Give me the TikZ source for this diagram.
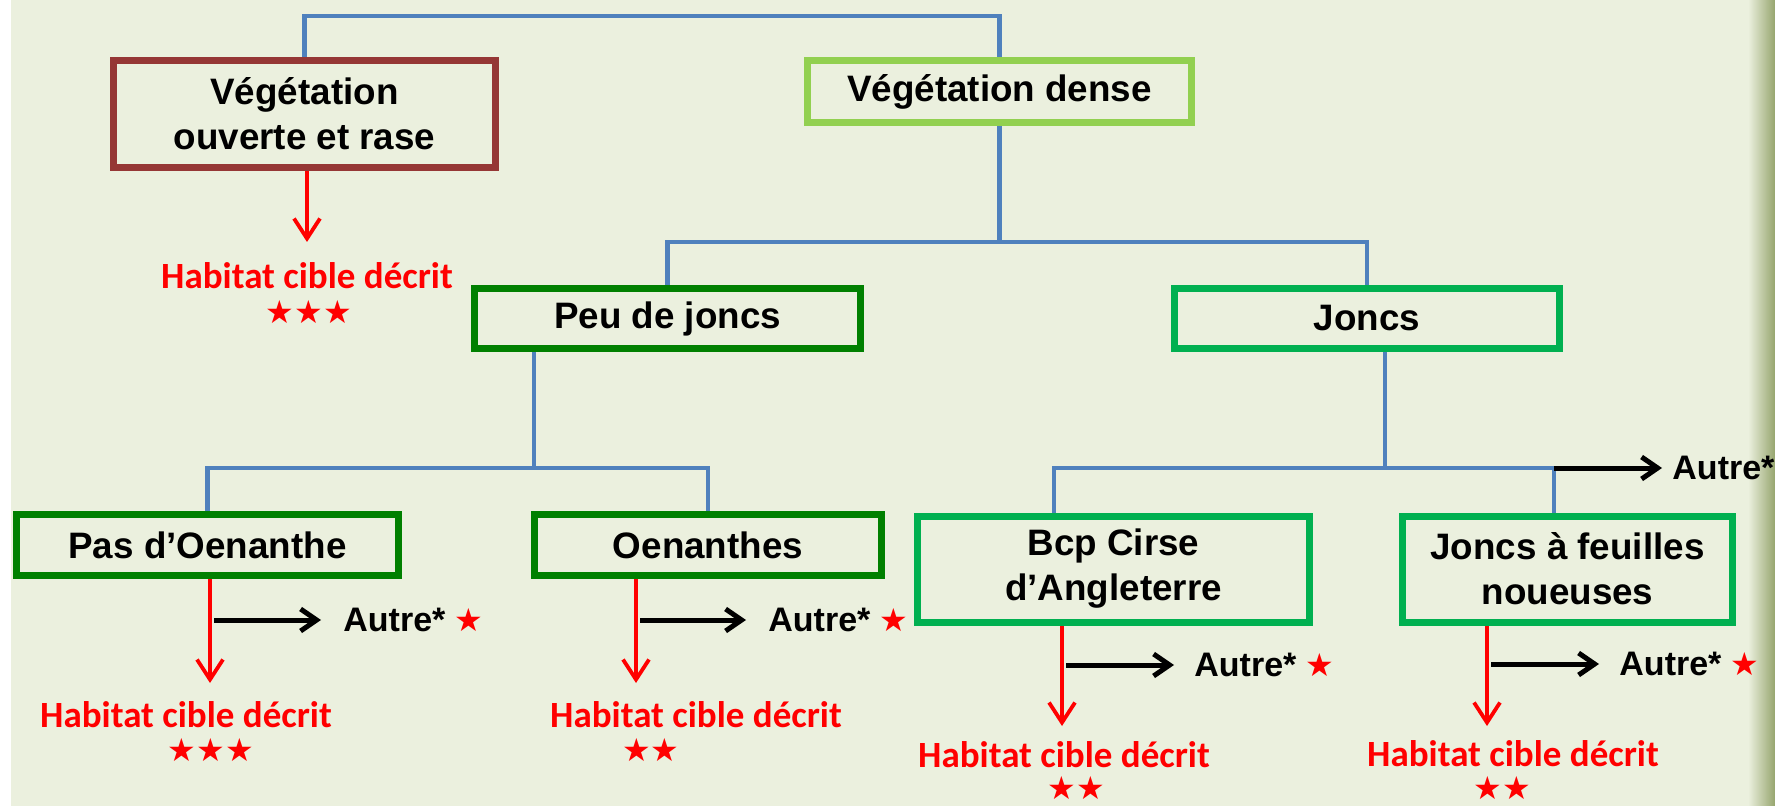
\documentclass[tikz,border=0pt]{standalone}
\usepackage{fontspec}
\setmainfont{Liberation Sans}
\newfontfamily\calibfont{Carlito}
\newfontfamily\starfont{DejaVu Sans}
\usetikzlibrary{arrows.meta}

\definecolor{PageBg}{RGB}{235,240,222}
\definecolor{Grass}{RGB}{150,165,110}
\definecolor{TreeBlue}{RGB}{79,129,189}
\definecolor{BoxBrown}{RGB}{149,55,53}
\definecolor{BoxLime}{RGB}{146,208,80}
\definecolor{BoxDark}{RGB}{0,128,0}
\definecolor{BoxGreen}{RGB}{0,176,80}

\pgfdeclarelayer{bg}
\pgfsetlayers{bg,main}

\tikzset{
  box/.style={draw=#1, line width=3.5pt, inner sep=0pt, align=center,
    font=\bfseries\fontsize{18.4}{22.5}\selectfont},
  tree/.style={TreeBlue, line width=2.3pt},
  down/.style={red, line width=1.9pt, -{Straight Barb[length=10pt,width=13pt]}},
  side/.style={black, line width=2.5pt, -{Straight Barb[length=8pt,width=11pt]}},
  habitat/.style={red, inner sep=0pt, font=\calibfont\bfseries\fontsize{18.5}{22}\selectfont},
  stars/.style={red, inner sep=0pt, font=\starfont\fontsize{16}{18}\selectfont},
  autre/.style={anchor=west, inner sep=0pt, font=\bfseries\fontsize{17}{20}\selectfont},
}
\newcommand{\redstar}{{\color{red}\starfont\fontsize{16}{18}\selectfont ★}}

\begin{document}
\begin{tikzpicture}[x=0.5pt,y=0.5pt,yscale=-1,xscale=1]
		\useasboundingbox (0,0) rectangle (1775,806);

		% Boxes of the key
		\node[box=BoxBrown, minimum width=191pt, minimum height=53.5pt] (ouverte) at (304.5,114) {Végétation\\ouverte et rase};
		\node[box=BoxLime, minimum width=192pt, minimum height=31pt] (dense) at (999.5,91.5) {Végétation dense};
		\node[box=BoxDark, minimum width=193pt, minimum height=30pt] (peu) at (667.5,318.5) {Peu de joncs};
		\node[box=BoxGreen, minimum width=192.5pt, minimum height=30pt] (joncs) at (1367,318.5) {Joncs};
		\node[box=BoxDark, minimum width=191pt, minimum height=30.5pt] (pas) at (207.5,545) {Pas d’Oenanthe};
		\node[box=BoxDark, minimum width=173.5pt, minimum height=30.5pt] (oen) at (708,545) {Oenanthes};
		\node[box=BoxGreen, minimum width=196pt, minimum height=53pt] (cirse) at (1113.5,569) {Bcp Cirse\\d’Angleterre};
		\node[box=BoxGreen, minimum width=165pt, minimum height=53pt] (noueuses) at (1567.5,569) {Joncs à feuilles\\noueuses};

		% Outcomes
		\node[habitat] (h1) at (307,276) {Habitat cible décrit};
		\node[stars] (s1) at (309,312) {★★★};
		\node[habitat] (h5) at (186,715) {Habitat cible décrit};
		\node[stars] (s5) at (211,750) {★★★};
		\node[habitat] (h6) at (696,715) {Habitat cible décrit};
		\node[stars] (s6) at (651,750) {★★};
		\node[habitat] (h7) at (1064,755) {Habitat cible décrit};
		\node[stars] (s7) at (1076,788) {★★};
		\node[habitat] (h8) at (1513,754) {Habitat cible décrit};
		\node[stars] (s8) at (1502,788) {★★};

		% Other habitats
		\node[autre] (a0) at (1672,468) {Autre*};
		\node[autre] (a5) at (343,620) {Autre*~\redstar};
		\node[autre] (a6) at (768,620) {Autre*~\redstar};
		\node[autre] (a7) at (1194,665) {Autre*~\redstar};
		\node[autre] (a8) at (1619,664) {Autre*~\redstar};

		% Forks and arrow tips
		\coordinate (top) at (652,16);
		\coordinate (fork1) at (999.5,242);
		\coordinate (fork2) at (534,468);
		\coordinate (fork3) at (1385,468);
		\coordinate (fork3l) at (1054,468);
		\coordinate (fork3r) at (1554,468);
		\coordinate (tip1) at (307,242);
		\coordinate (tip5) at (210,683);
		\coordinate (tip6) at (636,683);
		\coordinate (tip7) at (1062,726);
		\coordinate (tip8) at (1487,726);

		\begin{pgfonlayer}{bg}
		% Page, with the grass strip on the right
		\fill[white] (0,0) rectangle (1775,806);
		\fill[PageBg] (11,0) rectangle (1757,806);
		\shade[left color=PageBg, right color=Grass] (1748,0) rectangle (1775,806);

		% Blue tree
		\draw[tree] (ouverte.north) |- (top) -| (dense.north);
		\draw[tree] (dense.south) -- (fork1);
		\draw[tree] (peu.north) |- (fork1) -| (joncs.north);
		\draw[tree] (fork2 |- peu.south) -- (fork2);
		\draw[tree] (pas.north) |- (fork2) -| (oen.north);
		\draw[tree] (fork3 |- joncs.south) -- (fork3);
		\draw[tree] (fork3l |- cirse.north) -- (fork3l) -- (fork3r) -- (fork3r |- noueuses.north);

		% Red arrows down to the target habitat
		\draw[down] (tip1 |- ouverte.south) -- (tip1);
		\draw[down] (tip5 |- pas.south) -- (tip5);
		\draw[down] (tip6 |- oen.south) -- (tip6);
		\draw[down] (tip7 |- cirse.south) -- (tip7);
		\draw[down] (tip8 |- noueuses.south) -- (tip8);
		\end{pgfonlayer}

		% Black arrows to the other habitats
		\draw[side] (fork3r) -- ([xshift=-5pt]a0.west);
		\draw[side] ([xshift=2pt]tip5 |- a5.west) -- ([xshift=-11pt]a5.west);
		\draw[side] ([xshift=2pt]tip6 |- a6.west) -- ([xshift=-11pt]a6.west);
		\draw[side] ([xshift=2pt]tip7 |- a7.west) -- ([xshift=-10pt]a7.west);
		\draw[side] ([xshift=2pt]tip8 |- a8.west) -- ([xshift=-10pt]a8.west);
\end{tikzpicture}
\end{document}
